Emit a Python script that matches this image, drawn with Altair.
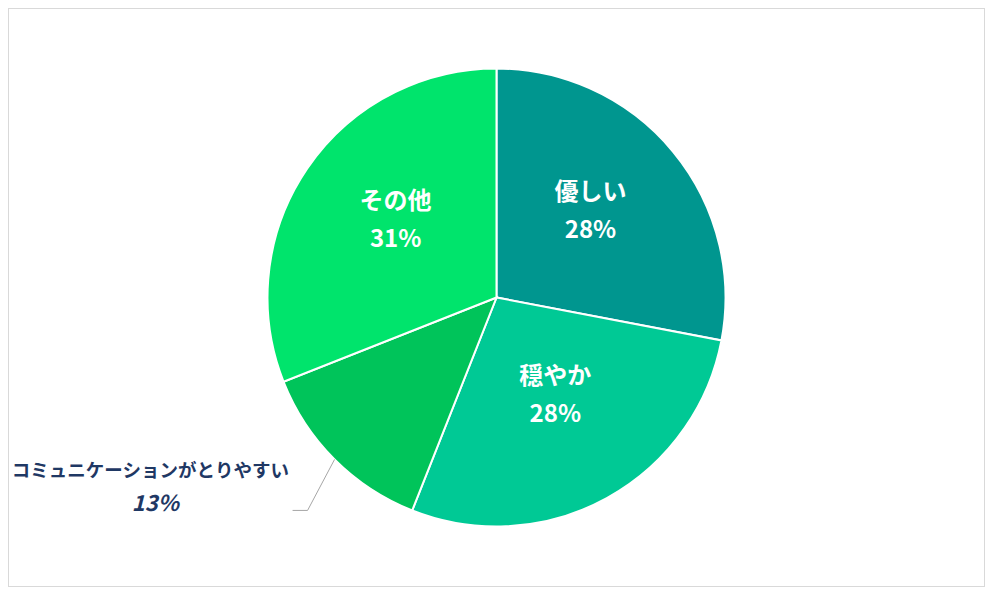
import altair as alt
import pandas as pd

categories = ["優しい", "穏やか", "コミュニケーションがとりやすい", "その他"]
values = [28, 28, 13, 31]
slice_order = [0, 1, 2, 3]
colors = ["#00968F", "#00C995", "#00C45A", "#00E46C"]
outside = "コミュニケーションがとりやすい"

df = pd.DataFrame({"cat": categories, "value": values, "ord": slice_order})
df["pct"] = df["value"].astype(str) + "%"

FONT = "Noto Sans CJK JP"
CX, CY, R = 488.5, 289.5, 229

base = alt.Chart(df).encode(
    theta=alt.Theta("value:Q", stack=True),
    order=alt.Order("ord:Q"),
)

pie = base.mark_arc(outerRadius=R, stroke="white", strokeWidth=2).encode(
    color=alt.Color("cat:N", scale=alt.Scale(domain=categories, range=colors), legend=None)
)

inner_calc = base.transform_calculate(
    l1=f"datum.cat == '{outside}' ? '' : datum.cat",
    l2=f"datum.cat == '{outside}' ? '' : datum.pct",
)
in1 = inner_calc.mark_text(radius=122, dy=-27, font=FONT, fontWeight="bold", fontSize=24,
                           color="white").encode(text="l1:N")
in2 = inner_calc.mark_text(radius=122, dy=11, font=FONT, fontWeight="bold", fontSize=24,
                           color="white").encode(text="l2:N")

outer_calc = base.transform_calculate(
    o1=f"datum.cat == '{outside}' ? datum.cat : ''",
    o2=f"datum.cat == '{outside}' ? datum.pct : ''",
)
out1 = outer_calc.mark_text(radius=300, dx=-134, dy=-39, font=FONT, fontWeight="bold",
                            fontSize=18.5, color="#1F3864").encode(text="o1:N")
out2 = outer_calc.mark_text(radius=300, dx=-129, dy=-6, font=FONT, fontWeight="bold",
                            fontSize=22, fontStyle="italic", color="#1F3864").encode(text="o2:N")

lead = alt.Chart(df).transform_window(
    cum="sum(value)", sort=[alt.SortField("ord")], frame=[None, 0]
).transform_joinaggregate(total="sum(value)").transform_calculate(
    mid="2*PI*(datum.cum - datum.value/2)/datum.total"
).transform_calculate(
    x0=f"{CX} + {R}*sin(datum.mid)",
    y0=f"{CY} - {R}*cos(datum.mid)",
).transform_calculate(
    x1="datum.x0 - 27", y1="datum.y0 + 51", x2="datum.x0 - 42"
).transform_filter(alt.datum.cat == outside)

lead1 = lead.mark_rule(color="#A6A6A6", strokeWidth=1).encode(
    x=alt.X("x0:Q", scale=None), y=alt.Y("y0:Q", scale=None),
    x2="x1:Q", y2="y1:Q",
)
lead2 = lead.mark_rule(color="#A6A6A6", strokeWidth=1).encode(
    x=alt.X("x1:Q", scale=None), y=alt.Y("y1:Q", scale=None),
    x2="x2:Q", y2="y1:Q",
)

chart = alt.layer(pie, lead1, lead2, in1, in2, out1, out2).properties(
    width=977, height=579,
    autosize=alt.AutoSizeParams(type="fit", contains="padding"),
    padding=0,
    background="white",
).configure_view(stroke="#D9D9D9", strokeWidth=2)

chart.save("out.html", embed_options={"renderer": "svg", "actions": False})
